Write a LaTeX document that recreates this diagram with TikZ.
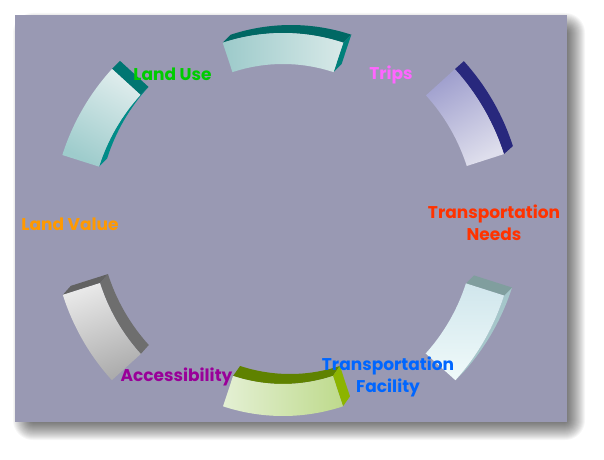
\documentclass[tikz,border=0pt]{standalone}
\usepackage{fontspec}
\newfontfamily\lblfont{Poppins}
\definecolor{bgc}{RGB}{153,153,179}
\definecolor{cLU}{RGB}{0,204,0}
\definecolor{cTR}{RGB}{255,102,255}
\definecolor{cTN}{RGB}{255,51,0}
\definecolor{cTF}{RGB}{0,102,255}
\definecolor{cAC}{RGB}{153,0,153}
\definecolor{cLV}{RGB}{255,153,0}
% segment colours
\definecolor{topA}{RGB}{156,202,202}
\definecolor{topB}{RGB}{216,233,232}
\definecolor{topSide}{RGB}{0,104,100}
\definecolor{topCap}{RGB}{0,128,122}
\definecolor{trA}{RGB}{160,160,206}
\definecolor{trB}{RGB}{222,222,236}
\definecolor{trSide}{RGB}{40,40,125}
\definecolor{brA}{RGB}{208,230,236}
\definecolor{brB}{RGB}{240,250,250}
\definecolor{brSide}{RGB}{165,198,202}
\definecolor{brCap}{RGB}{128,158,158}
\definecolor{boA}{RGB}{228,240,212}
\definecolor{boB}{RGB}{190,218,140}
\definecolor{boSide}{RGB}{95,130,0}
\definecolor{boCap}{RGB}{140,180,0}
\definecolor{acA}{RGB}{232,232,232}
\definecolor{acB}{RGB}{172,172,172}
\definecolor{acSide}{RGB}{110,110,110}
\definecolor{acCap}{RGB}{98,98,98}
\definecolor{luA}{RGB}{222,236,236}
\definecolor{luB}{RGB}{158,204,204}
\definecolor{luSide}{RGB}{0,140,136}
\definecolor{luCap}{RGB}{0,118,114}
% path pieces: angles a1,a2, radii r1,r2
\newcommand\frontface[4]{(#1:#4) arc[start angle=#1,end angle=#2,radius=#4] -- (#2:#3) arc[start angle=#2,end angle=#1,radius=#3] -- cycle}
\newcommand\sideface[4]{(#1:#3) arc[start angle=#1,end angle=#2,radius=#3] -- ++(#4) arc[start angle=#2,end angle=#1,radius=#3] -- cycle}
\newcommand\capface[4]{(#1:#2) -- (#1:#3) -- ++(#4) -- ++(#1+180:#3-#2) -- cycle}
\begin{document}
\begin{tikzpicture}[x=1pt,y=1pt,
  lbl/.style={font=\lblfont\bfseries\fontsize{17}{22.5}\selectfont, inner sep=0pt, anchor=base}]
\useasboundingbox (0,0) rectangle (604,459);
\fill[white] (0,0) rectangle (604,459);
% soft drop shadow
\foreach \i in {0,...,20}{
  \fill[black, opacity=0.034, rounded corners=\i] (33-\i, 39-\i) rectangle (565+\i, 426+\i);
}
% background panel
\fill[bgc] (15,37) rectangle (567,444);
\begin{scope}[shift={(283,234)}]
  % top segment
  \fill[topSide] \sideface{71.7}{108.3}{192}{8,8};
  \fill[topCap] \capface{71.7}{161}{192}{8,8};
  \shade[left color=topA, right color=topB] \frontface{71.7}{108.3}{161}{192};
  % Trips segment
  \fill[trSide] \sideface{17.8}{42.2}{232}{9,8};
  \shade[top color=trA, bottom color=trB, shading angle=30] \frontface{17.8}{42.2}{193}{232};
  % lower right segment
  \fill[brSide] \sideface{-42}{-17.7}{232}{8,8};
  \fill[brCap] \capface{-17.7}{192}{232}{8,8};
  \shade[top color=brA, bottom color=brB] \frontface{-42}{-17.7}{192}{232};
  % bottom segment
  \fill[boSide] \sideface{251.7}{288.3}{159}{7,10};
  \fill[boCap] \capface{288.3}{159}{191}{7,10};
  \shade[left color=boA, right color=boB] \frontface{251.7}{288.3}{159}{191};
  % lower left segment
  \fill[acSide] \sideface{197.6}{222.2}{192}{8,9};
  \fill[acCap] \capface{197.6}{192}{231}{8,9};
  \shade[top color=acA, bottom color=acB, shading angle=20] \frontface{197.6}{222.2}{192}{231};
  % upper left segment
  \fill[luSide] \sideface{137.6}{162.4}{193}{8,8};
  \fill[luCap] \capface{137.6}{193}{231.5}{8,8};
  \shade[top color=luA, bottom color=luB, shading angle=-30] \frontface{137.6}{162.4}{193}{231.5};
\end{scope}
% labels
\node[lbl, text=cLU] (landuse) at (172.5,378.3) {Land Use};
\node[lbl, text=cTR] (trips) at (391,379.5) {Trips};
\node[lbl, text=cTN] (needs) at (494,240.7) {\begin{tabular}[t]{@{}c@{}}Transportation\\Needs\end{tabular}};
\node[lbl, text=cLV] (landvalue) at (70,228.3) {Land Value};
\node[lbl, text=cAC] (access) at (176.5,78) {Accessibility};
\node[lbl, text=cTF] (facility) at (388,89) {\begin{tabular}[t]{@{}c@{}}Transportation\\Facility\end{tabular}};
\end{tikzpicture}
\end{document}
